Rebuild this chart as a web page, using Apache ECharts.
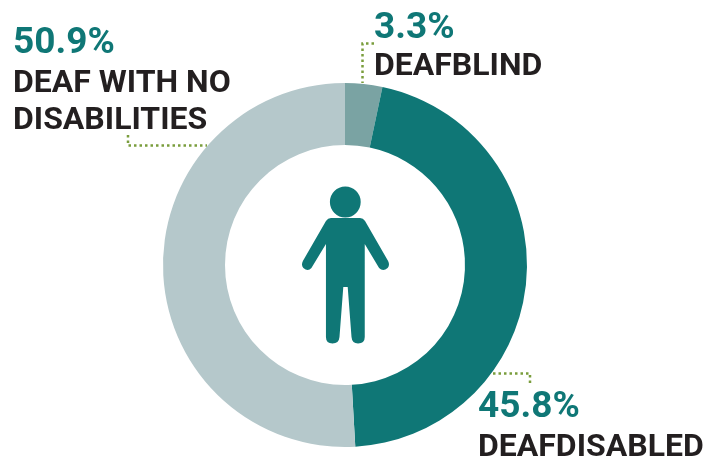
<!DOCTYPE html>
<html>
<head>
<meta charset="utf-8">
<style>html,body{margin:0;padding:0;background:#fff}#chart{width:719px;height:458px}</style>
<script src="https://cdn.jsdelivr.net/npm/echarts@6/dist/echarts.min.js"></script>
</head>
<body>
<div id="chart"></div>
<script>
const categories = ['DEAFBLIND', 'DEAFDISABLED', 'DEAF WITH NO DISABILITIES'];
const shares = [3.3, 45.8, 50.9];
const sliceColors = ['#7aa3a3', '#0f7776', '#b5c8cb'];
const percentLabels = shares.map(v => v.toFixed(1) + '%');

const TEAL = '#0f7776', INK = '#231f20', DOT = '#7a9d3c';

const chart = echarts.init(document.getElementById('chart'), null, {renderer: 'canvas'});

function pct(i, x, y) {
  return {type: 'text', x, y, style: {text: percentLabels[i], fill: TEAL,
    font: 'bold 37px Roboto', verticalAlign: 'top'}};
}
function name(text, x, y) {
  return {type: 'text', x, y, style: {text, fill: INK,
    font: 'bold 32px Roboto', verticalAlign: 'top'}};
}
function leader(points) {
  return {type: 'polyline', shape: {points}, style: {fill: null, stroke: DOT,
    lineWidth: 2.5, lineDash: [2.5, 3]}};
}

// Person pictogram in the middle of the ring
const bodyPath = 'M331 218 L360 218 Q363 218 365 221 L388 261 Q390 265 387.5 268 Q383 272 379 268 L364.7 244 ' +
  'L364.7 337 Q364.7 343.5 358 343.5 Q352 343.5 351.5 337 L347.7 287 L343.3 287 L339.5 337 ' +
  'Q339 343.5 332.5 343.5 Q326 343.5 326 337 L326 244 L311.5 268 Q308 272 303.5 268 Q301 265 303 261 ' +
  'L326 221 Q328 218 331 218 Z';

chart.setOption({
  animation: false,
  backgroundColor: '#fff',
  series: [{
    type: 'pie',
    center: [345, 265],
    radius: [120, 182],
    startAngle: 90,
    clockwise: true,
    silent: true,
    label: {show: false},
    labelLine: {show: false},
    data: categories.map((c, i) => ({name: c, value: shares[i], itemStyle: {color: sliceColors[i]}}))
  }, {
    type: 'custom',
    coordinateSystem: 'none',
    silent: true,
    data: [0],
    renderItem: () => ({
      type: 'path',
      shape: {pathData: bodyPath, layout: 'cover', x: 302, y: 218, width: 87, height: 125.5},
      style: {fill: TEAL}
    })
  }],
  graphic: [
    {type: 'circle', shape: {cx: 345.3, cy: 202, r: 15.4}, style: {fill: TEAL}},
    leader([[374, 43.5], [362.5, 43.5], [362.5, 83]]),
    leader([[128, 135], [128, 145.5], [207, 145.5]]),
    leader([[493, 373.5], [530, 373.5], [530, 386]]),
    pct(2, 13, 25.5),
    name('DEAF WITH NO', 13, 67.5),
    name('DISABILITIES', 13, 104.5),
    pct(0, 374, 10.5),
    name('DEAFBLIND', 374, 50.5),
    pct(1, 478, 389),
    name(categories[1], 478, 431.5)
  ]
});
</script>
</body>
</html>
